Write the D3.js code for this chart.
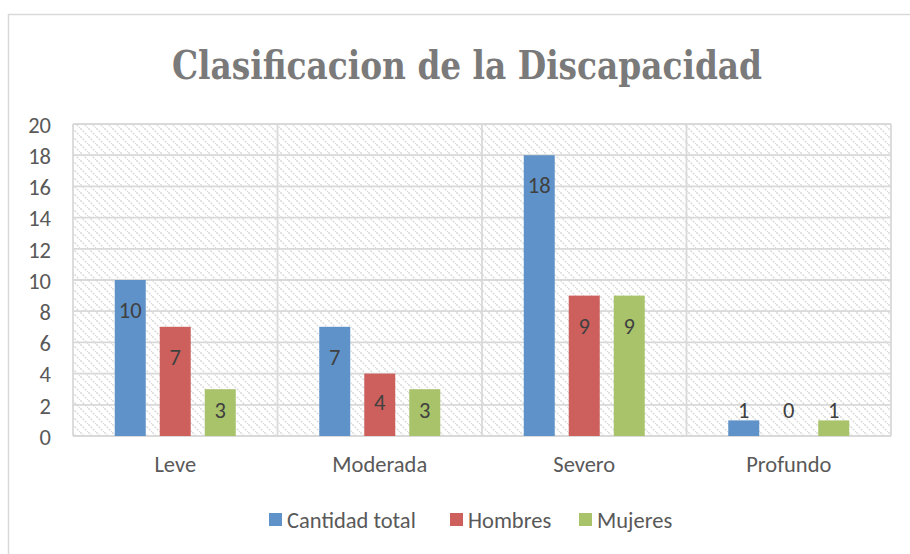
<!DOCTYPE html>
<html>
<head>
<meta charset="utf-8">
<script src="https://cdn.jsdelivr.net/npm/d3@7"></script>
<style>
  html, body { margin: 0; padding: 0; background: #fff; }
  svg { display: block; }
  text { font-family: "Carlito", "Lato", "Open Sans", sans-serif; }
</style>
</head>
<body>
<svg id="chart" width="910" height="554"></svg>
<script>
// Discapacidad por clasificación y sexo
const categories = ["Leve", "Moderada", "Severo", "Profundo"];
const seriesNames = ["Cantidad total", "Hombres", "Mujeres"];
const cantidadTotal = [10, 7, 18, 1];
const hombres = [7, 4, 9, 0];
const mujeres = [3, 3, 9, 1];
const yTicks = [0, 2, 4, 6, 8, 10, 12, 14, 16, 18, 20];
const colors = ["#5f92c8", "#cd605c", "#a9c36b"];

const seriesValues = [cantidadTotal, hombres, mujeres];
const rows = categories.map((c, i) => ({
  cat: c,
  vals: seriesNames.map((s, j) => ({ series: s, idx: j, value: seriesValues[j][i] }))
}));

const svg = d3.select("#chart");
const plot = { left: 73, right: 891, top: 124, bottom: 436 };
const labelFont = "22.5px";

// chart frame
svg.append("rect")
  .attr("x", 8.5).attr("y", 14.5).attr("width", 920).attr("height", 560)
  .attr("fill", "#fff").attr("stroke", "#d9d9d9").attr("stroke-width", 1.5);

// title
svg.append("text")
  .attr("x", 467).attr("y", 79)
  .attr("text-anchor", "middle")
  .attr("textLength", 590).attr("lengthAdjust", "spacingAndGlyphs")
  .style("font-family", "'DejaVu Serif Condensed', 'Liberation Serif', serif")
  .style("font-weight", "bold")
  .style("font-size", "39px")
  .attr("fill", "#7a7a7a")
  .text("Clasificacion de la Discapacidad");

// diagonal hatch for the plot background
const defs = svg.append("defs");
const pat = defs.append("pattern")
  .attr("id", "hatch").attr("patternUnits", "userSpaceOnUse")
  .attr("width", 8).attr("height", 8);
pat.append("path")
  .attr("d", "M-2,-2 L10,10 M-2,6 L2,10 M6,-2 L10,2")
  .attr("stroke", "#dcdcdc").attr("stroke-width", 1.6)
  .attr("stroke-dasharray", "2,1.2");

const x0 = d3.scaleBand().domain(categories).range([plot.left, plot.right]).padding(0);
const barW = 31, gap = 14;
const step = barW + gap;
const pIn = gap / step;
const pOut = (x0.bandwidth() / step - (seriesNames.length - pIn)) / 2;
const x1 = d3.scaleBand().domain(d3.range(seriesNames.length))
  .range([0, x0.bandwidth()]).paddingInner(pIn).paddingOuter(pOut);
const y = d3.scaleLinear().domain([0, 20]).range([plot.bottom, plot.top]);

svg.append("rect")
  .attr("x", plot.left).attr("y", plot.top)
  .attr("width", plot.right - plot.left).attr("height", plot.bottom - plot.top)
  .attr("fill", "url(#hatch)");

// horizontal gridlines
svg.append("g").selectAll("line").data(yTicks).join("line")
  .attr("x1", plot.left).attr("x2", plot.right)
  .attr("y1", d => y(d)).attr("y2", d => y(d))
  .attr("stroke", "#d9d9d9").attr("stroke-width", 1.8);

// vertical category dividers
svg.append("g").selectAll("line").data(d3.range(categories.length + 1)).join("line")
  .attr("x1", i => plot.left + i * x0.step()).attr("x2", i => plot.left + i * x0.step())
  .attr("y1", plot.top).attr("y2", plot.bottom)
  .attr("stroke", "#d9d9d9").attr("stroke-width", 1.8);

// y axis labels
const yAxis = d3.axisLeft(y).tickValues(yTicks).tickSize(0).tickPadding(0);
const gy = svg.append("g").attr("transform", "translate(51,1)").call(yAxis);
gy.select(".domain").remove();
gy.selectAll("text")
  .style("font-size", labelFont).attr("fill", "#595959")
  .style("font-family", "'Carlito', 'Lato', sans-serif");

// x axis labels
const xAxis = d3.axisBottom(x0).tickSize(0).tickPadding(0);
const gx = svg.append("g").attr("transform", "translate(0,456)").call(xAxis);
gx.select(".domain").remove();
gx.selectAll("text")
  .style("font-size", labelFont).attr("fill", "#595959")
  .style("font-family", "'Carlito', 'Lato', sans-serif");

// bars
const groups = svg.append("g").selectAll("g").data(rows).join("g")
  .attr("transform", d => `translate(${x0(d.cat)},0)`);

groups.selectAll("rect").data(d => d.vals).join("rect")
  .attr("x", d => x1(d.idx)).attr("width", x1.bandwidth())
  .attr("y", d => y(d.value)).attr("height", d => y(0) - y(d.value))
  .attr("fill", d => colors[d.idx]);

// data labels: inside near the top of tall bars; above short bars,
// with all short-bar labels of a group on one line
const tooShort = v => y(0) - y(v) < 30;
groups.selectAll("text.lbl").data(d => {
    const shortMax = d3.max(d.vals.filter(v => tooShort(v.value)), v => v.value);
    return d.vals.map(v => ({ ...v, shortMax }));
  }).join("text")
  .attr("class", "lbl")
  .attr("x", d => x1(d.idx) + x1.bandwidth() / 2)
  .attr("y", d => {
    const h = y(0) - y(d.value);
    if (tooShort(d.value)) return y(d.shortMax) - 10 + 8;
    return y(d.value) + Math.min(30, h * 0.45) + 8;
  })
  .attr("text-anchor", "middle")
  .style("font-size", labelFont).attr("fill", "#404040")
  .text(d => d.value);

// legend
const legendX = [269, 450, 579];
const lg = svg.append("g").selectAll("g").data(seriesNames).join("g")
  .attr("transform", (d, i) => `translate(${legendX[i]},513)`);
lg.append("rect").attr("width", 13).attr("height", 13).attr("fill", (d, i) => colors[i]);
lg.append("text").attr("x", 18).attr("y", 15)
  .style("font-size", labelFont).attr("fill", "#595959")
  .text(d => d);
</script>
</body>
</html>
